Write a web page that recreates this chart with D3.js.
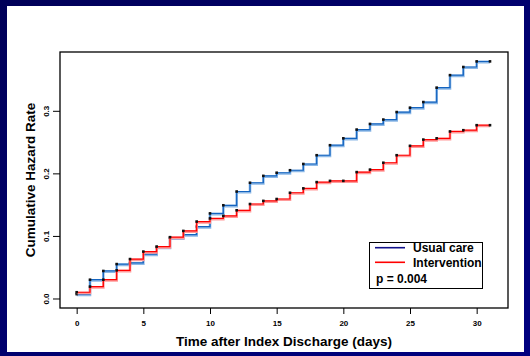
<!DOCTYPE html>
<html><head><meta charset="utf-8">
<script src="https://cdn.jsdelivr.net/npm/d3@7/dist/d3.min.js"></script>
<style>body{margin:0;padding:0;overflow:hidden;} text{font-family:"Liberation Sans",Arial,sans-serif;font-weight:bold;}</style>
</head><body>
<script>
const days = [0,1,2,3,4,5,6,7,8,9,10,11,12,13,14,15,16,17,18,19,20,21,22,23,24,25,26,27,28,29,30,31];
const usualCare = [0.007,0.030,0.044,0.055,0.057,0.071,0.082,0.097,0.102,0.115,0.136,0.149,0.171,0.185,0.196,0.201,0.205,0.215,0.229,0.245,0.256,0.270,0.279,0.286,0.298,0.305,0.314,0.337,0.357,0.370,0.379,0.379];
const intervention = [0.010,0.019,0.030,0.045,0.063,0.075,0.083,0.098,0.108,0.123,0.128,0.132,0.141,0.151,0.156,0.159,0.169,0.176,0.186,0.188,0.188,0.202,0.206,0.217,0.229,0.244,0.254,0.256,0.267,0.269,0.277,0.277];
const xTicks = [0,5,10,15,20,25,30];
const yTicks = [0.0,0.1,0.2,0.3];
const legendLabels = ["Usual care","Intervention"];
const pText = "p = 0.004";

const W=530,H=356;
const svg=d3.select("body").append("svg").attr("width",W).attr("height",H);
const defs=svg.append("defs");
const g=defs.append("linearGradient").attr("id","bg").attr("x1","0").attr("y1","0").attr("x2","1").attr("y2","1");
g.append("stop").attr("offset","0").attr("stop-color","#000058");
g.append("stop").attr("offset","0.5").attr("stop-color","#00006e");
g.append("stop").attr("offset","1").attr("stop-color","#000080");
svg.append("rect").attr("width",W).attr("height",H).attr("fill","url(#bg)");
svg.append("rect").attr("x",7).attr("y",6).attr("width",517).attr("height",346).attr("fill","#fff");

const L=60,R=508,T=52,B=308;
const x=d3.scaleLinear().domain([-1.25,32.35]).range([L,R]);
const y=d3.scaleLinear().domain([-0.0152,0.394]).range([B,T]);

// axes
const xa=svg.append("g").attr("transform",`translate(0,${B})`)
  .call(d3.axisBottom(x).tickValues(xTicks).tickFormat(d3.format("d")).tickSize(6).tickPadding(6));
xa.select(".domain").remove();
xa.selectAll("line").attr("stroke","#000");
xa.selectAll("text").attr("font-size",8).attr("fill","#000").attr("font-family","Liberation Sans, Arial").attr("font-weight","bold");

const ya=svg.append("g").attr("transform",`translate(${L},0)`)
  .call(d3.axisLeft(y).tickValues(yTicks).tickFormat(d3.format(".1f")).tickSize(7).tickPadding(4));
ya.select(".domain").remove();
ya.selectAll("line").attr("stroke","#000");
ya.selectAll("text").attr("font-size",8).attr("fill","#000").attr("font-family","Liberation Sans, Arial").attr("font-weight","bold")
  .attr("text-anchor","middle").attr("x",null).attr("dy",null)
  .attr("transform","translate(-11,0) rotate(-90)");

// lines
const line=d3.line().x((d,i)=>x(days[i])).y(d=>y(d)).curve(d3.curveStepAfter);
function series(vals,light,dark){
  svg.append("path").datum(vals).attr("d",line).attr("fill","none").attr("stroke",light).attr("stroke-width",2.6).attr("transform","translate(0,0.8)");
  svg.append("path").datum(vals).attr("d",line).attr("fill","none").attr("stroke",dark).attr("stroke-width",1.2);
  svg.append("g").selectAll("rect").data(vals).join("rect")
    .attr("x",(d,i)=>x(days[i])-1.3).attr("y",d=>y(d)-1.3).attr("width",2.6).attr("height",2.6).attr("fill","#111");
}
series(usualCare,"#8cb8e6","#1464c0");
series(intervention,"#ff9a9a","#ff0000");

// box
svg.append("rect").attr("x",L).attr("y",T).attr("width",R-L).attr("height",B-T).attr("fill","none").attr("stroke","#000").attr("stroke-width",1.3);

// titles
svg.append("text").attr("x",(L+R)/2).attr("y",346).attr("text-anchor","middle").attr("font-size",13.5).text("Time after Index Discharge (days)");
svg.append("text").attr("transform",`translate(35,${(T+B)/2}) rotate(-90)`).attr("text-anchor","middle").attr("font-size",13.5).text("Cumulative Hazard Rate");

// legend
const lg=svg.append("g");
lg.append("rect").attr("x",369.5).attr("y",242.5).attr("width",113).attr("height",46).attr("fill","#fff").attr("stroke","#000").attr("stroke-width",1);
const lc=["#10108a","#ff0000"];
legendLabels.forEach((t,i)=>{
  const yy=247.7+i*14.6;
  lg.append("line").attr("x1",375).attr("x2",405).attr("y1",yy).attr("y2",yy).attr("stroke",lc[i]).attr("stroke-width",1.6);
  lg.append("text").attr("x",413).attr("y",yy+4.2).attr("font-size",12).text(t);
});
lg.append("text").attr("x",376).attr("y",283.3).attr("font-size",12).text(pText);
</script>
</body></html>
